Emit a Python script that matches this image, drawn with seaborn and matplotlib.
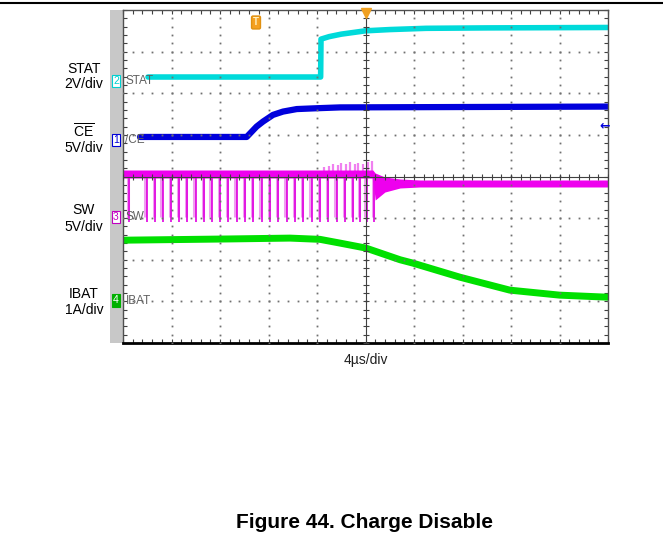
import matplotlib
matplotlib.use('Agg')
import matplotlib.pyplot as plt
import seaborn as sns
import pandas as pd
import numpy as np
from matplotlib.patches import Rectangle
from matplotlib.lines import Line2D

# scope capture: time in us (4 us/div, 10 div), levels in divisions from screen centre
stat_t = [2.06, 16.30, 16.33, 17.0, 18.0, 20.0, 22.0, 25.0, 30.0, 40.0]
stat_v = [2.39, 2.39, 3.30, 3.36, 3.42, 3.50, 3.53, 3.56, 3.57, 3.58]

ce_t = [1.40, 10.20, 11.02, 11.55, 12.37, 13.20, 14.33, 15.98, 17.90, 40.0]
ce_v = [0.95, 0.95, 1.20, 1.32, 1.48, 1.56, 1.62, 1.64, 1.66, 1.68]

ibat_t = [0.0, 8.82, 13.77, 16.25, 17.90, 20.04, 22.85, 23.90, 27.80, 31.90, 36.0, 40.0]
ibat_v = [-1.53, -1.50, -1.48, -1.51, -1.60, -1.72, -2.00, -2.08, -2.42, -2.73, -2.85, -2.90]

# SW node: envelope of the high level / ringing, and the switching dips
sw_t = [0.0, 20.6, 20.8, 21.6, 22.85, 24.5, 40.0]
sw_hi = [0.156, 0.156, 0.084, -0.012, -0.06, -0.084, -0.084]
sw_lo = [-0.036, -0.036, -0.565, -0.373, -0.276, -0.252, -0.252]
sw_up_t = [16.6, 17.0, 17.3, 17.7, 18.0, 18.4, 18.7, 19.1, 19.4, 19.8, 20.2, 20.5]
sw_up_v = [0.22, 0.26, 0.30, 0.27, 0.33, 0.29, 0.34, 0.31, 0.33, 0.30, 0.36, 0.38]
sw_pulse_t = [0.52, 1.95, 2.64, 3.27, 3.96, 4.62, 5.30, 6.00, 6.68, 7.32, 8.00, 8.68,
              9.38, 10.06, 10.75, 11.44, 12.12, 12.81, 13.50, 14.19, 14.87, 15.56,
              16.25, 16.93, 17.62, 18.31, 18.99, 19.55, 20.10, 20.70]
sw_pulse_low = -1.10

# channel ground markers: (number, label, level, colour)
channels = [("2", "STAT", 2.30, "#00d0d0"), ("1", "/CE", 0.88, "#0000d8"),
            ("3", "SW", -0.97, "#c000c0"), ("4", "IBAT", -2.98, "#00b000")]

sns.set_theme(style="white")
plt.rcParams['font.family'] = ['Liberation Sans', 'DejaVu Sans']
plt.rcParams['mathtext.fontset'] = 'custom'
plt.rcParams['mathtext.rm'] = 'Liberation Sans'

W, H = 663, 550
fig = plt.figure(figsize=(W / 100, H / 100), dpi=100)
fig.patch.set_facecolor('white')

def fx(px): return px / W
def fy(py): return 1 - py / H

ax = fig.add_axes([fx(123), fy(343), fx(608) - fx(123), fy(10) - fy(343)])
ax.set_facecolor('white')
ax.set_xlim(0, 40)
ax.set_ylim(-4, 4)

# traces
sns.lineplot(x=stat_t, y=stat_v, ax=ax, color="#00dada", lw=4.0, estimator=None, sort=False, zorder=2)
sns.lineplot(x=ce_t, y=ce_v, ax=ax, color="#0000dc", lw=4.5, estimator=None, sort=False, zorder=2)
sns.lineplot(x=ibat_t, y=ibat_v, ax=ax, color="#00e000", lw=5.0, estimator=None, sort=False, zorder=2)

ax.vlines(sw_up_t, 0.1, sw_up_v, color="#f080f0", lw=1.6, zorder=2)
ax.vlines([t - 0.12 for t in sw_pulse_t], sw_pulse_low + 0.12, 0.0, color="#f0a0f0", lw=2.2, zorder=2)
ax.vlines(sw_pulse_t, sw_pulse_low, 0.0, color="#e000e0", lw=1.2, zorder=2)
ax.fill_between(sw_t, sw_lo, sw_hi, color="#ee00ee", lw=0, zorder=2)

# graticule
minor_x = np.arange(0, 40.01, 0.8)
minor_y = np.arange(-4, 4.01, 0.2)
for gx in range(4, 40, 4):
    if gx != 20:
        ax.plot([gx] * len(minor_y), minor_y, ls='none', marker='s', ms=1.3, color='#707070', mew=0, zorder=3)
for gy in range(-3, 4):
    if gy != 0:
        ax.plot(minor_x, [gy] * len(minor_x), ls='none', marker='s', ms=1.3, color='#707070', mew=0, zorder=3)
ax.axhline(0, color='#404040', lw=0.8, zorder=3)
ax.axvline(20, color='#404040', lw=0.8, zorder=3)
ax.plot(minor_x, [0] * len(minor_x), ls='none', marker='|', ms=4, mew=0.8, color='#404040', zorder=3)
ax.plot([20] * len(minor_y), minor_y, ls='none', marker='_', ms=4, mew=0.8, color='#404040', zorder=3)

ax.set_xticks(np.arange(0, 41, 4))
ax.set_yticks(np.arange(-4, 5, 1))
ax.set_xticks(minor_x, minor=True)
ax.set_yticks(minor_y, minor=True)
ax.tick_params(which='both', direction='in', top=True, right=True, bottom=True, left=True,
               length=3, width=0.8, color='#404040', labelbottom=False, labelleft=False)
ax.set_xlabel('')
ax.set_ylabel('')
for side in ['top', 'left', 'right']:
    ax.spines[side].set_color('#505050')
    ax.spines[side].set_linewidth(1.0)
ax.spines['bottom'].set_color('black')
ax.spines['bottom'].set_linewidth(2.0)

# trigger markers
ax.plot([20], [3.93], marker='v', ms=7, color='#f0a020', clip_on=False, zorder=5)
ax.text(10.97, 3.70, 'T', ha='center', va='center', fontsize=7, color='#fff0c0', fontweight='bold',
        bbox=dict(boxstyle='round,pad=0.15', fc='#f5a020', ec='#e09010'), zorder=5)
ax.text(39.7, 1.21, '←', ha='center', va='center', fontsize=9, color='#0000dc',
        family='DejaVu Sans', fontweight='bold', zorder=5)

# grey side strip with channel markers
fig.add_artist(Rectangle((fx(110), fy(343)), fx(123) - fx(110), fy(10) - fy(343),
                         fc='#c8c8c8', ec='none', zorder=0))
for num, lab, lvl, col in channels:
    ypx = 176.5 - lvl * 41.6
    filled = num == "4"
    fig.text(fx(116), fy(ypx), num, ha='center', va='center', fontsize=7.5,
             color='white' if filled else col,
             bbox=dict(boxstyle='square,pad=0.12', fc=col if filled else 'white', ec=col, lw=0.8))
    ax.text(0.2, lvl, lab, ha='left', va='center', fontsize=8.5, color='#606060',
            family=['Liberation Sans Narrow', 'Liberation Sans'], zorder=4)

# top rule
fig.add_artist(Line2D([0, 1], [fy(3), fy(3)], color='black', lw=1.5))

# left captions
caps = [("STAT", 69), ("2V/div", 84), (r"$\overline{\mathrm{CE}}$", 131), ("5V/div", 148),
        ("SW", 210), ("5V/div", 227), ("IBAT", 294.5), ("1A/div", 310.5)]
for txt, ypx in caps:
    fig.text(fx(84), fy(ypx), txt, ha='center', va='center', fontsize=10, color='black')

fig.text(fx(366), fy(360), "4µs/div", ha='center', va='center', fontsize=10, color='#202020')
fig.text(fx(364), fy(522), "Figure 44. Charge Disable", ha='center', va='center',
         fontsize=15, fontweight='bold', color='black')

fig.savefig('out.png', dpi=100)
